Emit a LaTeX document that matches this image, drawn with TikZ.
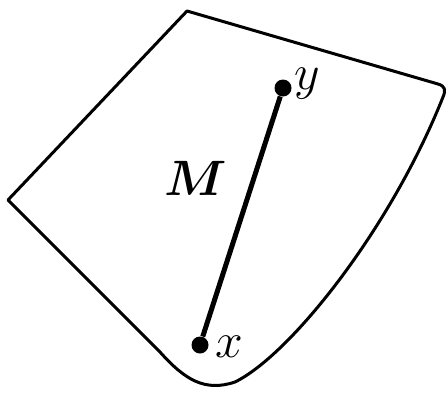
\documentclass[tikz,border=0pt]{standalone}
\usepackage{tikz}
\usepackage{amsmath, amssymb}
\usetikzlibrary{positioning, calc}

\begin{document}
\begin{tikzpicture}[
    x=0.5pt, y=-0.5pt,
    region/.style={
        line width=1.5pt,
        line join=round
    },
    seg/.style={line width=2.5pt},
    pt/.style={
        circle,
        fill,
        inner sep=0pt,
        minimum size=8.5pt
    },
    lab/.style={
        font=\fontsize{23}{26}\selectfont,
        inner sep=1pt
    }
]
\useasboundingbox (0,0) rectangle (448,392);

% ---------------- Region ----------------
\draw[region] (8,200) -- (187,11) -- (438,84)
    .. controls (445,86) and (446,90) .. (443,97)
    .. controls (390,230) and (290,355) .. (235,382)
    .. controls (205,392) and (185,380) .. (160,352)
    -- cycle;

% ---------------- Nodes ----------------
\node[pt] (y) at (283,88) {};
\node[pt] (x) at (200,345) {};

\node[lab, right=0pt of y, yshift=2pt] (ylab) {$y$};
\node[lab, right=2pt of x, yshift=-1pt] (xlab) {$x$};
\node[lab] (mlab) at (196,178) {$\boldsymbol{M}$};

% ---------------- Segment ----------------
\draw[seg] (x) -- (y);

\end{tikzpicture}
\end{document}
